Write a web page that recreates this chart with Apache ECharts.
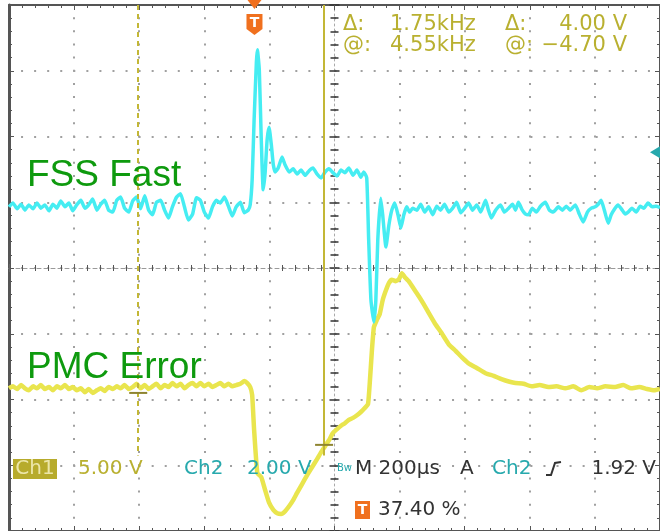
<!DOCTYPE html>
<html>
<head>
<meta charset="utf-8">
<script src="https://cdn.jsdelivr.net/npm/echarts@6/dist/echarts.min.js"></script>
<style>
html,body{margin:0;padding:0;background:#fff;}
#c{width:660px;height:531px;}
</style>
</head>
<body>
<div id="c"></div>
<script>
// Time axis: microseconds relative to screen centre (200 µs/div, 10 div)
// Vertical: screen divisions relative to centre (8 div)
const fssTime = [-1000,-988,-975,-963,-951,-939,-926,-914,-902,-890,-877,-865,-853,-841,-828,-816,-804,-792,-779,-767,-755,-743,-730,-718,-706,-694,-681,-669,-657,-645,-632,-620,-608,-596,-583,-571,-559,-547,-534,-522,-510,-498,-485,-473,-461,-449,-436,-424,-412,-400,-387,-375,-363,-351,-338,-326,-314,-302,-289,-277,-265,-259,-253,-247,-240,-237,-231,-225,-219,-213,-207,-201,-194,-188,-182,-173,-161,-152,-139,-127,-115,-103,-90,-78,-66,-54,-41,-29,-17,-5,8,20,32,44,57,69,81,90,99,105,112,121,127,133,142,148,158,167,176,185,195,204,213,222,231,240,253,265,277,289,302,314,326,338,351,363,375,388,400,412,424,437,449,464,473,482,495,510,522,535,547,556,565,577,587,596,608,620,633,648,660,672,688,700,712,724,740,752,764,777,789,801,810,819,829,841,850,862,871,884,893,902,914,927,939,951,963,976,988,1000];
const fssDiv = [0.93,0.99,0.90,0.97,0.88,0.96,0.90,0.99,0.91,0.96,0.87,0.97,0.91,1.02,0.93,0.99,0.87,0.96,1.03,0.91,0.96,1.05,0.88,0.97,1.03,0.88,0.85,1.03,1.08,0.91,0.85,1.02,1.08,0.90,1.10,0.88,0.81,1.00,1.03,0.88,0.76,0.93,1.08,1.13,0.93,0.73,0.82,1.07,1.03,0.85,0.76,0.93,1.03,0.99,1.08,0.94,0.79,0.93,1.00,0.84,0.88,0.96,1.34,2.25,3.13,3.32,3.01,1.95,1.19,1.46,1.95,2.14,1.87,1.57,1.46,1.52,1.69,1.57,1.46,1.51,1.43,1.49,1.41,1.48,1.52,1.43,1.37,1.46,1.51,1.45,1.40,1.49,1.45,1.52,1.41,1.49,1.38,1.46,1.37,0.43,-0.49,-0.82,-0.49,0.43,1.06,0.81,0.32,0.65,0.88,0.99,0.81,0.61,0.81,0.93,0.85,0.91,0.88,0.97,0.85,0.93,0.81,0.94,0.88,0.97,0.85,0.91,1.00,0.84,0.91,0.99,0.88,0.96,0.85,1.03,0.88,0.76,0.88,0.96,0.85,0.91,0.97,0.88,1.00,0.88,0.82,0.81,0.91,0.85,0.94,1.00,0.88,0.85,0.93,0.88,0.94,0.88,0.96,0.82,0.70,0.85,0.91,0.93,0.97,1.03,0.88,0.68,0.81,0.91,0.96,0.88,0.82,0.85,0.91,0.85,0.94,0.91,0.99,0.93,0.94,0.92];

const pmcTime = [-1000,-988,-975,-963,-951,-939,-926,-914,-902,-890,-877,-865,-853,-841,-828,-816,-804,-792,-779,-767,-755,-743,-730,-718,-706,-694,-681,-669,-657,-645,-632,-620,-608,-596,-583,-571,-559,-547,-534,-522,-510,-498,-485,-473,-461,-449,-436,-424,-412,-400,-387,-375,-363,-351,-338,-326,-314,-302,-289,-277,-268,-259,-253,-247,-237,-225,-213,-201,-188,-176,-164,-152,-139,-127,-115,-100,-84,-69,-54,-41,-29,-17,-5,8,20,32,44,57,69,81,93,103,109,115,121,130,139,148,158,167,176,188,198,207,216,228,244,259,274,289,308,329,351,372,394,412,437,464,489,513,538,556,581,605,630,657,682,709,734,758,783,807,832,862,887,911,936,960,982,1000];
const pmcDiv = [-1.83,-1.80,-1.84,-1.78,-1.83,-1.86,-1.80,-1.83,-1.78,-1.84,-1.81,-1.86,-1.80,-1.83,-1.78,-1.84,-1.81,-1.86,-1.83,-1.89,-1.84,-1.90,-1.86,-1.83,-1.87,-1.81,-1.84,-1.80,-1.83,-1.78,-1.84,-1.81,-1.76,-1.83,-1.78,-1.84,-1.80,-1.76,-1.83,-1.78,-1.81,-1.75,-1.80,-1.76,-1.83,-1.78,-1.75,-1.80,-1.75,-1.80,-1.76,-1.81,-1.78,-1.75,-1.80,-1.76,-1.80,-1.78,-1.76,-1.72,-1.75,-1.81,-1.93,-2.46,-3.12,-3.18,-3.38,-3.57,-3.68,-3.73,-3.74,-3.70,-3.62,-3.53,-3.42,-3.29,-3.15,-3.03,-2.91,-2.80,-2.71,-2.62,-2.51,-2.45,-2.40,-2.36,-2.31,-2.28,-2.24,-2.19,-2.13,-2.07,-1.70,-1.25,-0.90,-0.79,-0.70,-0.49,-0.34,-0.23,-0.18,-0.20,-0.17,-0.08,-0.14,-0.20,-0.32,-0.43,-0.55,-0.68,-0.84,-0.99,-1.16,-1.26,-1.37,-1.45,-1.52,-1.60,-1.64,-1.69,-1.73,-1.75,-1.76,-1.80,-1.78,-1.81,-1.80,-1.83,-1.80,-1.86,-1.81,-1.83,-1.80,-1.81,-1.78,-1.83,-1.81,-1.84,-1.86,-1.84];

// Cursors (Ch1): times and waveform levels at each cursor
const cursorTime = [-603, -32];
const cursorLevel = [-1.90, -2.69];
const cursorStyle = ['dashed', 'solid'];
const triggerTime = -252;      // 37.40 % of record
const triggerLevelDiv = 1.76;  // Ch2 trigger level marker

const readoutTop = [
  ['Δ:', '1.75kHz', 'Δ:', '4.00 V'],
  ['@:', '4.55kHz', '@:', '−4.70 V']
];

const COL_CYAN = '#45edf2';
const COL_YEL = '#e9e54e';
const COL_OLIVE = '#b9b030';
const COL_TEAL = '#27a9ad';
const COL_GREEN = '#0e9a0e';
const COL_ORANGE = '#f0701e';

const G = {left: 9, top: 5, width: 653, height: 526};

function xAx(idx, extra) {
  return Object.assign({
    gridIndex: idx, type: 'value', min: -1000, max: 1000, interval: 200,
    axisLabel: {show: false}, splitLine: {show: false},
    axisTick: {show: true, length: 5, inside: true, lineStyle: {color: '#555'}},
    minorTick: {show: true, splitNumber: 5, length: 3, lineStyle: {color: '#555'}}
  }, extra);
}
function yAx(idx, extra) {
  return Object.assign({
    gridIndex: idx, type: 'value', min: -4, max: 4, interval: 1,
    axisLabel: {show: false}, splitLine: {show: false},
    axisTick: {show: true, length: 5, inside: true, lineStyle: {color: '#555'}},
    minorTick: {show: true, splitNumber: 5, length: 3, lineStyle: {color: '#555'}}
  }, extra);
}

const chart = echarts.init(document.getElementById('c'), null, {renderer: 'canvas'});

const option = {
  animation: false,
  backgroundColor: '#ffffff',
  grid: [Object.assign({}, G), Object.assign({}, G), Object.assign({}, G)],
  xAxis: [
    xAx(0, {position: 'bottom', axisLine: {onZero: false, lineStyle: {color: '#555', width: 2}},
      splitLine: {show: true, lineStyle: {color: '#a0a0a0', width: 2, type: [2, 11.15], dashOffset: 1}}}),
    xAx(0, {position: 'top', axisLine: {onZero: false, lineStyle: {color: '#555', width: 2}}}),
    xAx(1, {position: 'bottom', axisLine: {onZero: true, lineStyle: {color: '#9a9a9a', width: 1, type: [4, 3]}},
      axisTick: {show: true, length: 4, inside: false, lineStyle: {color: '#666'}}}),
    xAx(2, {position: 'bottom', axisLine: {show: false, onZero: true},
      axisTick: {show: true, length: 4, inside: true, lineStyle: {color: '#666'}}})
  ],
  yAxis: [
    yAx(0, {position: 'left', axisLine: {onZero: false, lineStyle: {color: '#555', width: 3}},
      splitLine: {show: true, lineStyle: {color: '#a0a0a0', width: 2, type: [2, 11.06], dashOffset: 1}}}),
    yAx(0, {position: 'right', axisLine: {onZero: false, lineStyle: {color: '#555', width: 2}}}),
    yAx(1, {position: 'left', axisLine: {onZero: true, lineStyle: {color: '#aaa', width: 1, type: [2, 3]}},
      axisTick: {show: true, length: 5, inside: false, lineStyle: {color: '#333', width: 1.5}},
      minorTick: {show: true, splitNumber: 5, length: 4, lineStyle: {color: '#333', width: 1.5}}}),
    yAx(2, {position: 'left', axisLine: {show: false, onZero: true},
      axisTick: {show: true, length: 5, inside: true, lineStyle: {color: '#333', width: 1.5}},
      minorTick: {show: true, splitNumber: 5, length: 4, lineStyle: {color: '#333', width: 1.5}}})
  ],
  series: [
    {
      name: 'PMC Error', type: 'line', xAxisIndex: 0, yAxisIndex: 0,
      data: pmcTime.map((t, i) => [t, pmcDiv[i]]),
      showSymbol: false, symbol: 'none', smooth: 0.15,
      lineStyle: {color: COL_YEL, width: 4.5, join: 'round'},
      z: 3,
      markLine: {
        silent: true, symbol: ['none', 'none'], label: {show: false},
        data: cursorTime.map((t, i) => [
          {coord: [t, 4], lineStyle: {color: '#c3b736', width: 2, type: cursorStyle[i] === 'solid' ? 'solid' : [5, 4]}},
          {coord: [t, -2.85]}
        ])
      },
      markPoint: {
        silent: true, symbol: 'rect', symbolSize: [18, 2], label: {show: false},
        itemStyle: {color: '#8e8430'},
        data: cursorTime.map((t, i) => ({coord: [t, cursorLevel[i]]}))
      }
    },
    {
      name: 'FSS Fast', type: 'line', xAxisIndex: 0, yAxisIndex: 0,
      data: fssTime.map((t, i) => [t, fssDiv[i]]),
      showSymbol: false, symbol: 'none', smooth: 0.15,
      lineStyle: {color: COL_CYAN, width: 3.5, join: 'round'},
      z: 4
    }
  ]
};
chart.setOption(option);

// overlay readouts and markers
const trigX = chart.convertToPixel({xAxisIndex: 0}, triggerTime) + 2;
const trigLvlY = chart.convertToPixel({yAxisIndex: 0}, triggerLevelDiv);

function txt(text, x, y, color, size, align, family, weight) {
  return {
    type: 'text', z: 100, silent: true,
    style: {
      text: text, x: x, y: y, fill: color,
      font: (weight || 'normal') + ' ' + size + 'px ' + (family || '"DejaVu Sans"'),
      align: align || 'left', textAlign: align || 'left',
      verticalAlign: 'middle', textVerticalAlign: 'middle'
    }
  };
}

const g = [];
// channel labels
g.push(txt('FSS Fast', 27, 176, COL_GREEN, 37, 'left', '"Liberation Sans", Arial'));
g.push(txt('PMC Error', 27, 368, COL_GREEN, 37, 'left', '"Liberation Sans", Arial'));
// cursor readout
readoutTop.forEach((row, r) => {
  const y = 25 + r * 21;
  g.push(txt(row[0], 343, y, COL_OLIVE, 21));
  g.push(txt(row[1], 390, y, COL_OLIVE, 21));
  g.push(txt(row[2], 505, y, COL_OLIVE, 21));
  g.push(txt(row[3], 627, y, COL_OLIVE, 21, 'right'));
});
// bottom readout
g.push({type: 'rect', z: 99, silent: true, shape: {x: 13, y: 459, width: 44, height: 20}, style: {fill: '#b7ab2c'}});
g.push(txt('Ch1', 35, 469, '#ece6a8', 20, 'center'));
g.push(txt('5.00 V', 78, 469, COL_OLIVE, 20));
g.push(txt('Ch2', 184, 469, COL_TEAL, 20));
g.push(txt('2.00 V', 247, 469, COL_TEAL, 20));
g.push(txt('Bw', 337, 468, COL_TEAL, 10));
g.push(txt('M 200µs', 355, 469, '#333', 20));
g.push(txt('A', 460, 469, '#333', 20));
g.push(txt('Ch2', 492, 469, COL_TEAL, 20));
g.push({type: 'polyline', z: 100, silent: true, shape: {points: [[546, 475], [551, 475], [555, 463], [561, 462]]}, style: {stroke: '#333', lineWidth: 2, fill: null}});
g.push(txt('1.92 V', 656, 469, '#333', 20, 'right'));
g.push({type: 'rect', z: 99, silent: true, shape: {x: 355, y: 501, width: 15, height: 18}, style: {fill: COL_ORANGE}});
g.push(txt('T', 362.5, 510, '#fff', 14, 'center', '"DejaVu Sans"', 'bold'));
g.push(txt('37.40 %', 378, 510, '#333', 20));
// trigger position marker (top)
g.push({type: 'polygon', z: 100, silent: true, shape: {points: [[trigX - 7, 0], [trigX + 7, 0], [trigX, 9]]}, style: {fill: COL_ORANGE}});
g.push({type: 'polygon', z: 100, silent: true, shape: {points: [[trigX - 8, 14], [trigX + 8, 14], [trigX + 8, 29], [trigX, 35], [trigX - 8, 29]]}, style: {fill: COL_ORANGE}});
g.push(txt('T', trigX, 23, '#fff', 14, 'center', '"DejaVu Sans"', 'bold'));
// trigger level marker (right edge)
g.push({type: 'polygon', z: 100, silent: true, shape: {points: [[660, trigLvlY - 6], [660, trigLvlY + 6], [650, trigLvlY]]}, style: {fill: COL_TEAL}});

chart.setOption({graphic: {elements: g}});
</script>
</body>
</html>
